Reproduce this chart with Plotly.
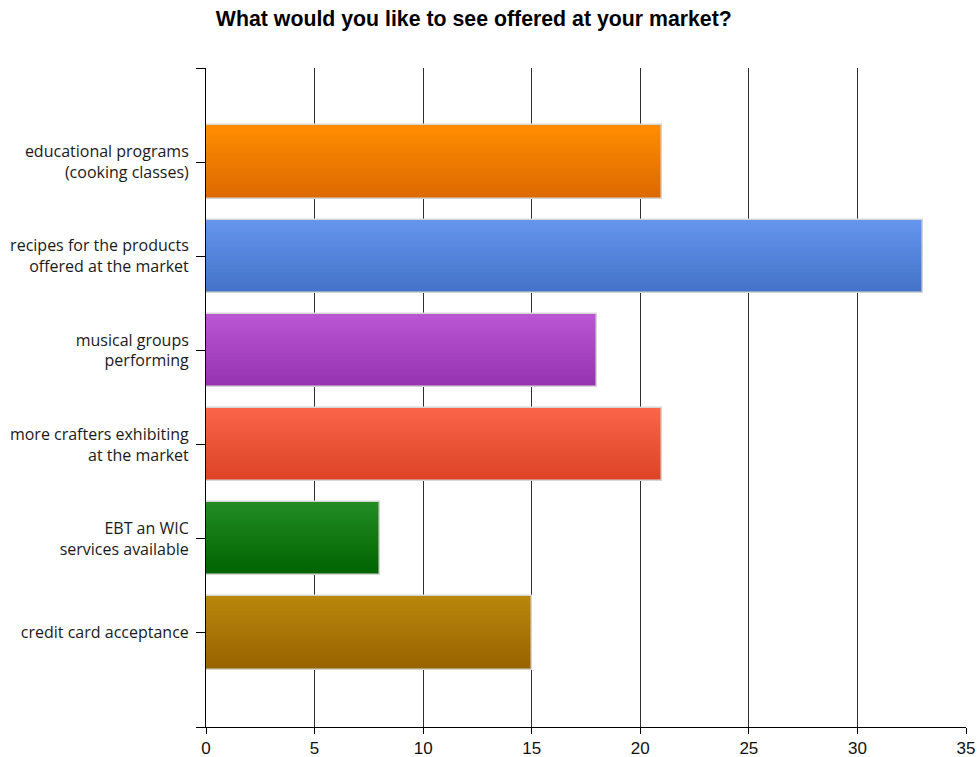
import plotly.graph_objects as go

# Survey responses: what people would like offered at the market
categories = [
    "educational programs<br>(cooking classes)",
    "recipes for the products<br>offered at the market",
    "musical groups<br>performing",
    "more crafters exhibiting<br>at the market",
    "EBT an WIC<br>services available",
    "credit card acceptance",
]
counts = [21, 33, 18, 21, 8, 15]

# Top / bottom colours of each bar's vertical gradient
top_colors = ["#ff8c00", "#6495ed", "#ba55d3", "#fb6449", "#228b22", "#b8860b"]
bottom_colors = ["#dc6900", "#4472c8", "#9533b0", "#dc4327", "#006400", "#996300"]

x_ticks = [0, 5, 10, 15, 20, 25, 30, 35]

positions = list(range(1, len(categories) + 1))
bar_width = 0.78
n_slices = 24


def hex_to_rgb(h):
    h = h.lstrip("#")
    return tuple(int(h[i:i + 2], 16) for i in (0, 2, 4))


def blend(c1, c2, t):
    a, b = hex_to_rgb(c1), hex_to_rgb(c2)
    return "rgb({},{},{})".format(*[round(a[i] + (b[i] - a[i]) * t) for i in range(3)])


fig = go.Figure()

# Gradient fill: stack thin horizontal slices of each bar
slice_w = bar_width / n_slices
for k in range(n_slices):
    t = k / (n_slices - 1)
    w = slice_w * 1.6 if k < n_slices - 1 else slice_w
    fig.add_trace(go.Bar(
        y=positions,
        x=counts,
        orientation="h",
        width=w,
        offset=-bar_width / 2 + k * slice_w,
        marker=dict(color=[blend(a, b, t) for a, b in zip(top_colors, bottom_colors)],
                    line=dict(width=0)),
        hoverinfo="skip",
        showlegend=False,
    ))

# Light outline around each bar
fig.add_trace(go.Bar(
    y=positions,
    x=counts,
    orientation="h",
    width=bar_width,
    offset=-bar_width / 2,
    marker=dict(color="rgba(0,0,0,0)", line=dict(color="#d6d6d6", width=1.5)),
    customdata=[c.replace("<br>", " ") for c in categories],
    hovertemplate="%{customdata}: %{x}<extra></extra>",
    showlegend=False,
))

fig.update_layout(
    width=979,
    height=757,
    barmode="overlay",
    bargap=0,
    paper_bgcolor="white",
    plot_bgcolor="white",
    margin=dict(l=206, r=13, t=68, b=30, autoexpand=False),
    title=dict(
        text="<b>What would you like to see offered at your market?</b>",
        x=0.484, xref="container", xanchor="center",
        y=0.975, yref="container", yanchor="middle",
        font=dict(family="Liberation Sans, Arial, sans-serif", size=21.3, color="#000"),
    ),
    font=dict(family="Open Sans, Liberation Sans, sans-serif", size=16, color="#1a1a1a"),
)

fig.update_xaxes(
    range=[0, 35],
    tickvals=x_ticks,
    ticktext=[str(v) for v in x_ticks],
    automargin=False,
    showgrid=True,
    gridcolor="#2e2e2e",
    gridwidth=1,
    zeroline=False,
    showline=True,
    linecolor="#000",
    linewidth=1,
    ticks="outside",
    ticklen=6,
    tickcolor="#000",
    tickfont=dict(family="Liberation Sans Narrow, Arial Narrow, Liberation Sans, sans-serif",
                  size=17, color="#111"),
)

fig.update_yaxes(
    range=[7, 0],
    tickvals=[0] + positions + [7],
    ticktext=[""] + categories + [""],
    automargin=False,
    showgrid=False,
    zeroline=False,
    showline=True,
    linecolor="#000",
    linewidth=1,
    ticks="outside",
    ticklen=9,
    tickcolor="#000",
    ticklabelstandoff=4,
    tickfont=dict(size=16, color="#1a1a1a"),
)

fig.write_html("out.html")
